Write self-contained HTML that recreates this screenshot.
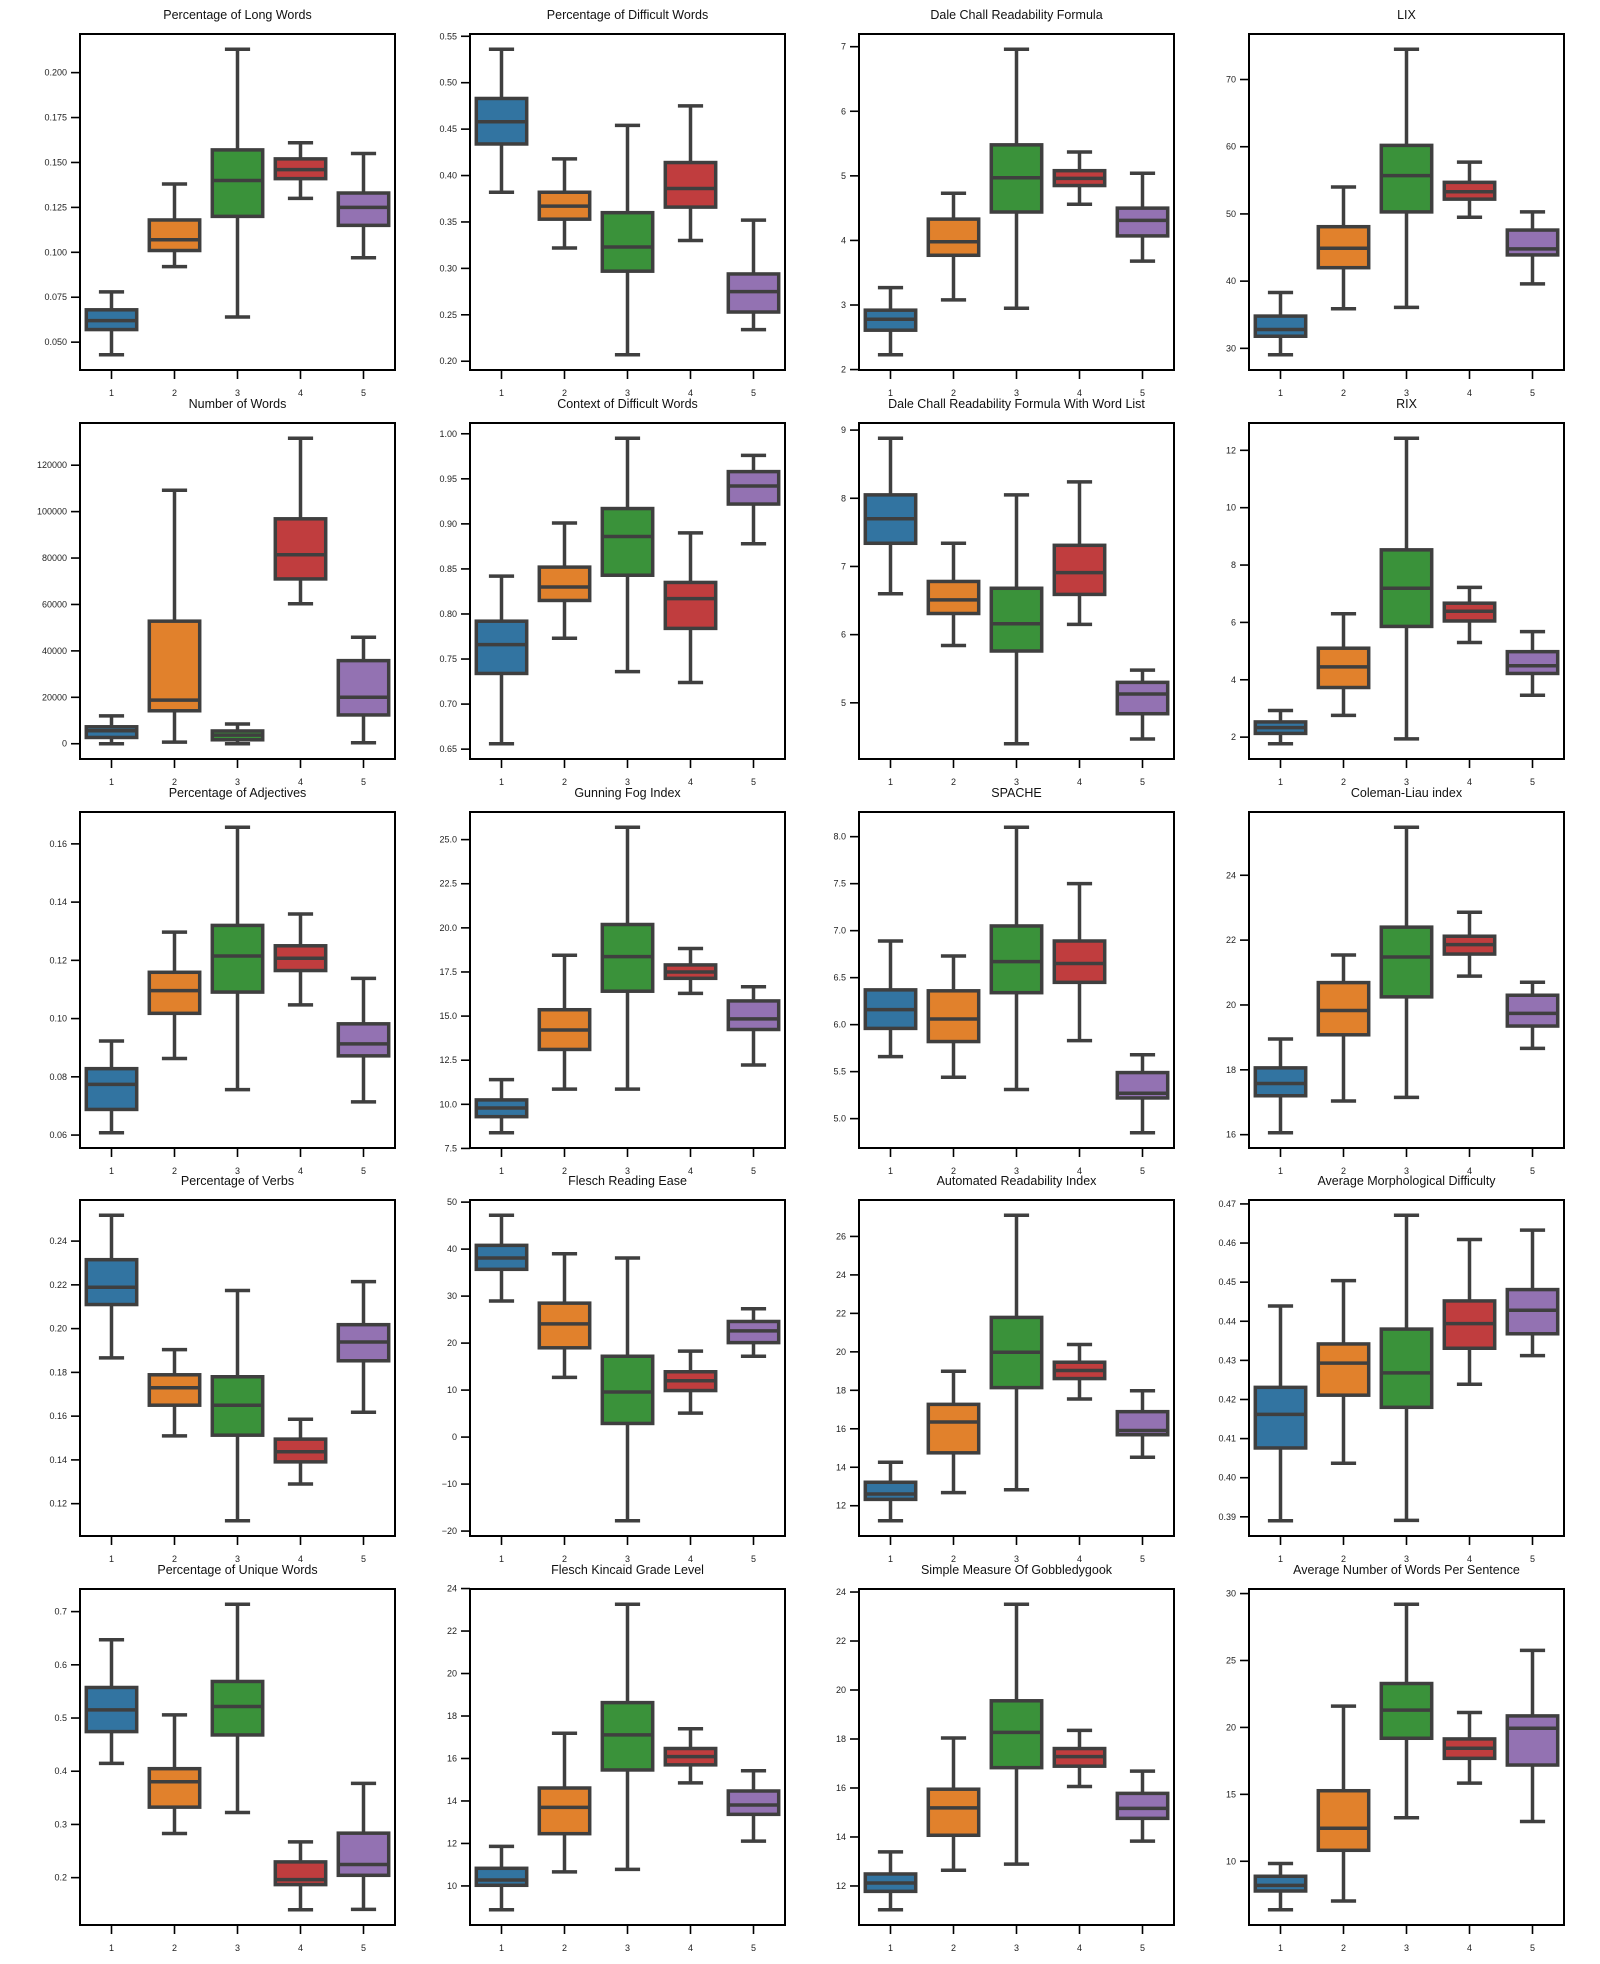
<!DOCTYPE html>
<html><head><meta charset="utf-8">
<style>
html,body{margin:0;padding:0;background:#fff;}
svg{display:block;font-family:"Liberation Sans",sans-serif;}
</style></head>
<body>
<svg id="fig" width="1600" height="1964" viewBox="0 0 1600 1964" xmlns="http://www.w3.org/2000/svg"></svg>
<script>
const categories = ["1","2","3","4","5"];
const titles = ["Percentage of Long Words","Percentage of Difficult Words","Dale Chall Readability Formula","LIX",
"Number of Words","Context of Difficult Words","Dale Chall Readability Formula With Word List","RIX",
"Percentage of Adjectives","Gunning Fog Index","SPACHE","Coleman-Liau index",
"Percentage of Verbs","Flesch Reading Ease","Automated Readability Index","Average Morphological Difficulty",
"Percentage of Unique Words","Flesch Kincaid Grade Level","Simple Measure Of Gobbledygook","Average Number of Words Per Sentence"];
const whiskerLow = [
[.043,.092,.064,.130,.097],[.382,.322,.207,.330,.234],[2.23,3.08,2.95,4.56,3.68],[29.05,35.9,36.1,49.5,39.6],
[0,700,0,60300,400],[.656,.773,.736,.724,.878],[6.60,5.84,4.40,6.15,4.47],[1.77,2.76,1.94,5.30,3.46],
[.0608,.0863,.0756,.1047,.0714],[8.39,10.86,10.86,16.29,12.23],[5.66,5.44,5.31,5.83,4.85],[16.06,17.04,17.15,20.89,18.66],
[.1866,.1510,.1122,.1290,.1618],[28.96,12.7,-17.8,5.1,17.2],[11.22,12.68,12.83,17.55,14.52],[.3890,.4037,.3891,.4239,.4312],
[.4148,.2829,.3225,.1397,.1403],[8.88,10.66,10.78,14.85,12.11],[11.03,12.64,12.89,16.06,13.83],[6.38,7.03,13.25,15.84,12.97]];
const quartile1 = [
[.057,.101,.120,.141,.115],[.434,.353,.297,.366,.253],[2.61,3.77,4.44,4.85,4.07],[31.8,42.0,50.3,52.2,43.9],
[2700,14200,1700,71000,12400],[.734,.815,.843,.784,.922],[7.34,6.31,5.76,6.59,4.84],[2.13,3.73,5.86,6.05,4.22],
[.0688,.1018,.1091,.1165,.0872],[9.30,13.11,16.41,17.14,14.24],[5.96,5.82,6.34,6.45,5.22],[17.20,19.08,20.25,21.57,19.35],
[.2110,.1650,.1513,.1391,.1853],[35.7,19.0,2.9,9.9,20.1],[12.33,14.75,18.14,18.61,15.69],[.4076,.4211,.4180,.4331,.4368],
[.4745,.3325,.4682,.1869,.2044],[10.03,12.46,15.46,15.70,13.37],[11.78,14.07,16.83,16.89,14.76],[7.78,10.82,19.19,17.69,17.19]];
const medians = [
[.062,.107,.140,.146,.125],[.458,.367,.323,.386,.275],[2.78,3.98,4.97,4.96,4.31],[32.8,44.9,55.7,53.3,44.8],
[5600,18800,3700,81400,20000],[.766,.830,.886,.817,.942],[7.70,6.51,6.16,6.91,5.13],[2.33,4.45,7.19,6.39,4.49],
[.0774,.1096,.1215,.1207,.0913],[9.79,14.21,18.37,17.50,14.84],[6.16,6.06,6.67,6.65,5.27],[17.58,19.83,21.48,21.86,19.74],
[.2189,.1730,.1650,.1437,.1939],[38.1,24.1,9.6,12.0,22.6],[12.61,16.35,19.98,19.03,15.91],[.4162,.4293,.4268,.4394,.4428],
[.5154,.3803,.5216,.1963,.2246],[10.28,13.70,17.11,16.09,13.81],[12.12,15.19,18.27,17.28,15.17],[8.20,12.47,21.29,18.44,19.94]];
const quartile3 = [
[.068,.118,.157,.152,.133],[.483,.382,.360,.414,.294],[2.92,4.33,5.48,5.08,4.50],[34.8,48.1,60.2,54.7,47.6],
[7300,52800,5500,96900,35800],[.792,.852,.917,.835,.958],[8.05,6.78,6.68,7.31,5.30],[2.53,5.10,8.53,6.67,4.98],
[.0828,.1159,.1320,.1250,.0982],[10.25,15.36,20.19,17.90,15.86],[6.37,6.36,7.05,6.89,5.49],[18.06,20.69,22.40,22.12,20.30],
[.2315,.1789,.1780,.1495,.2018],[40.8,28.5,17.2,13.9,24.6],[13.22,17.27,21.79,19.46,16.89],[.4231,.4342,.4380,.4452,.4481],
[.5574,.4048,.5687,.2296,.2836],[10.83,14.61,18.63,16.47,14.47],[12.49,15.95,19.56,17.61,15.78],[8.88,15.27,23.28,19.14,20.86]];
const whiskerHigh = [
[.078,.138,.213,.161,.155],[.536,.418,.454,.475,.352],[3.27,4.73,6.96,5.37,5.04],[38.3,54.0,74.5,57.7,50.3],
[12000,109200,8500,131600,45900],[.842,.901,.995,.890,.976],[8.88,7.34,8.05,8.24,5.48],[2.93,6.30,12.42,7.22,5.68],
[.0923,.1297,.1657,.1359,.1138],[11.40,18.45,25.70,18.83,16.66],[6.89,6.73,8.10,7.50,5.68],[18.95,21.54,25.48,22.86,20.70],
[.2518,.1904,.2174,.1586,.2215],[47.2,39.0,38.1,18.3,27.3],[14.26,18.99,27.10,20.38,17.98],[.4439,.4504,.4671,.4609,.4633],
[.6472,.5059,.7138,.2673,.3772],[11.86,17.19,23.26,17.40,15.42],[13.39,18.04,23.50,18.35,16.69],[9.83,21.59,29.20,21.11,25.76]];
const tickLabels = [
["0.050","0.075","0.100","0.125","0.150","0.175","0.200"],["0.20","0.25","0.30","0.35","0.40","0.45","0.50","0.55"],["2","3","4","5","6","7"],["30","40","50","60","70"],
["0","20000","40000","60000","80000","100000","120000"],["0.65","0.70","0.75","0.80","0.85","0.90","0.95","1.00"],["5","6","7","8","9"],["2","4","6","8","10","12"],
["0.06","0.08","0.10","0.12","0.14","0.16"],["7.5","10.0","12.5","15.0","17.5","20.0","22.5","25.0"],["5.0","5.5","6.0","6.5","7.0","7.5","8.0"],["16","18","20","22","24"],
["0.12","0.14","0.16","0.18","0.20","0.22","0.24"],["−20","−10","0","10","20","30","40","50"],["12","14","16","18","20","22","24","26"],["0.39","0.40","0.41","0.42","0.43","0.44","0.45","0.46","0.47"],
["0.2","0.3","0.4","0.5","0.6","0.7"],["10","12","14","16","18","20","22","24"],["12","14","16","18","20","22","24"],["10","15","20","25","30"]];
const colors = ["#3274a1","#e1812c","#3a923a","#c03d3e","#9372b2"];

const NS = "http://www.w3.org/2000/svg";
const svg = document.getElementById("fig");
const colLeft = [80, 470, 859, 1249];
const rowTop = [34, 423, 812, 1200, 1589];
const W = 315, H = 336;
const EDGE = "#3f3f3f";

function mk(tag, attrs, parent) {
  const e = document.createElementNS(NS, tag);
  for (const k in attrs) e.setAttribute(k, attrs[k]);
  parent.appendChild(e);
  return e;
}

for (let p = 0; p < 20; p++) {
  const r = Math.floor(p / 4), c = p % 4;
  const L = colLeft[c], T = rowTop[r];
  const g = mk("g", {}, svg);
  
  

  let lo = Math.min(...whiskerLow[p]), hi = Math.max(...whiskerHigh[p]);
  const pad = (hi - lo) * 0.05; lo -= pad; hi += pad;
  const yScale = v => T + H - (v - lo) / (hi - lo) * H;
  const xBand = W / categories.length;
  const xScale = i => L + (i + 0.5) * xBand;

  // label above panel (title for row 0, xlabel of previous row otherwise)
  const lbl = mk("text", {x: L + W / 2, y: T - 15, "text-anchor": "middle", "font-size": "12.5", fill: "#111"}, g);
  lbl.textContent = titles[p];
  
  

  // y ticks
  tickLabels[p].forEach(t => {
    const v = parseFloat(t.replace("−", "-"));
    const y = yScale(v);
    const tl = mk("line", {x1: L - 9, x2: L, y1: y, y2: y, stroke: "#000", "stroke-width": 1.6}, g);
    
    
    const tx = mk("text", {x: L - 13, y: y + 3, "text-anchor": "end", "font-size": "9", fill: "#222"}, g);
    tx.textContent = t;
    
    
  });

  // boxes
  categories.forEach((cat, i) => {
    const cx = xScale(i), bw = xBand * 0.8, cw = bw * 0.5;
    const bg = mk("g", {}, g);
    
    
    const wl = mk("line", {x1: cx, x2: cx, y1: yScale(whiskerLow[p][i]), y2: yScale(quartile1[p][i]), stroke: EDGE, "stroke-width": 3.5}, bg);
    
    
    const wh = mk("line", {x1: cx, x2: cx, y1: yScale(quartile3[p][i]), y2: yScale(whiskerHigh[p][i]), stroke: EDGE, "stroke-width": 3.5}, bg);
    
    
    const cl = mk("line", {x1: cx - cw / 2, x2: cx + cw / 2, y1: yScale(whiskerLow[p][i]), y2: yScale(whiskerLow[p][i]), stroke: EDGE, "stroke-width": 3.5}, bg);
    
    
    const ch = mk("line", {x1: cx - cw / 2, x2: cx + cw / 2, y1: yScale(whiskerHigh[p][i]), y2: yScale(whiskerHigh[p][i]), stroke: EDGE, "stroke-width": 3.5}, bg);
    
    
    const yq3 = yScale(quartile3[p][i]), yq1 = yScale(quartile1[p][i]);
    const box = mk("rect", {x: cx - bw / 2, y: yq3, width: bw, height: Math.max(0, yq1 - yq3), fill: colors[i], stroke: EDGE, "stroke-width": 3.5}, bg);
    
    
    const md = mk("line", {x1: cx - bw / 2, x2: cx + bw / 2, y1: yScale(medians[p][i]), y2: yScale(medians[p][i]), stroke: EDGE, "stroke-width": 3.5}, bg);
    
    

    const xt = mk("line", {x1: cx, x2: cx, y1: T + H, y2: T + H + 9, stroke: "#000", "stroke-width": 1.6}, g);
    
    
    const xl = mk("text", {x: cx, y: T + H + 26, "text-anchor": "middle", "font-size": "9", fill: "#222"}, g);
    xl.textContent = cat;
    
    
  });

  const frame = mk("rect", {x: L, y: T, width: W, height: H, fill: "none", stroke: "#000", "stroke-width": 2}, g);
  
  
}
</script>
</body></html>
